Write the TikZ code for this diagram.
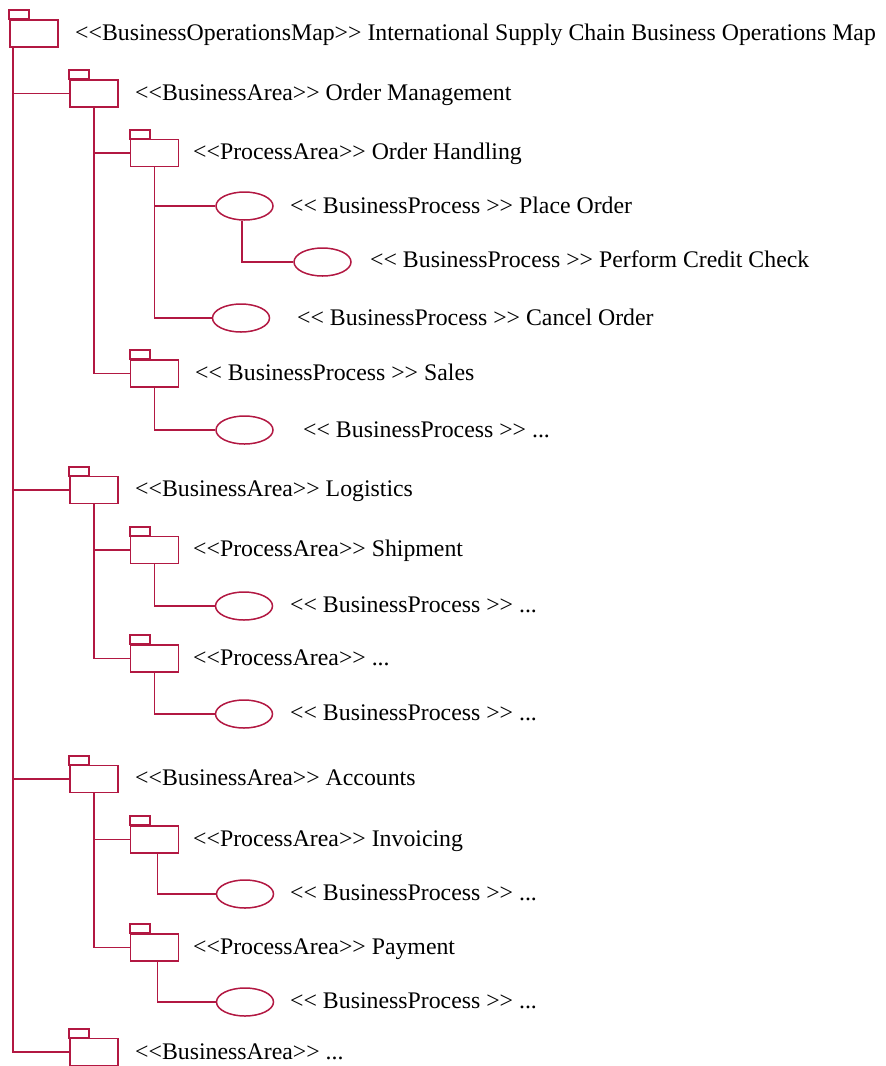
\documentclass[tikz,border=0pt]{standalone}
\usepackage{fontspec}
\setmainfont{Liberation Serif}
\usetikzlibrary{shapes.geometric}
\definecolor{umlred}{RGB}{178,24,66}
\tikzset{
  conn/.style={draw=umlred, line width=1.8pt},
  folder/.style={draw=umlred, line width=1.8pt, rectangle, minimum width=48pt, minimum height=27pt, inner sep=0pt, fill=white},
  usecase/.style={draw=umlred, line width=1.5pt, ellipse, minimum width=57pt, minimum height=28pt, inner sep=0pt, fill=white},
  lbl/.style={anchor=base west, inner sep=0pt, font=\fontsize{23.8}{28}\selectfont, text=black}
}
\newcommand\mkfolder[3]{%
  \node[folder] (#1) at (#2,#3) {};
  \draw[umlred, line width=1.8pt] (#1.north west) rectangle ++(20,-9);
}
\newcommand\mktext[4]{\node[lbl] (#1) at (#2,#3+7.8) {#4};}
\begin{document}
\begin{tikzpicture}[x=1pt,y=-1pt]
\useasboundingbox (0,0) rectangle (886,1066);
% folders
\mkfolder{root}{34}{33.5}
\mkfolder{om}{94}{93.5}
\mkfolder{lo}{94}{490}
\mkfolder{ac}{94}{779}
\mkfolder{bx}{94}{1052}
\mkfolder{oh}{154.5}{153}
\mkfolder{sa}{154.5}{373.5}
\mkfolder{sh}{154.5}{550}
\mkfolder{px}{154.5}{658.5}
\mkfolder{in}{154.5}{839.5}
\mkfolder{pa}{154.5}{947.5}
% use cases
\node[usecase] (po) at (244.5,206) {};
\node[usecase] (cc) at (322.5,262) {};
\node[usecase] (co) at (241,318) {};
\node[usecase] (sx) at (244.5,430) {};
\node[usecase] (shx) at (244,606) {};
\node[usecase] (pxx) at (244,714) {};
\node[usecase] (inx) at (245,894) {};
\node[usecase] (pax) at (245,1002) {};
% connectors
\draw[conn] ([xshift=4pt]root.south west) |- (om.west);
\draw[conn] ([xshift=4pt]root.south west) |- (lo.west);
\draw[conn] ([xshift=4pt]root.south west) |- (ac.west);
\draw[conn] ([xshift=4pt]root.south west) |- (bx.west);
\draw[conn] (om.south) |- (oh.west);
\draw[conn] (om.south) |- (sa.west);
\draw[conn] (oh.south) |- (po.west);
\draw[conn] (oh.south) |- (co.west);
\draw[conn] ([xshift=-2.5pt]po.south) |- (cc.west);
\draw[conn] (sa.south) |- (sx.west);
\draw[conn] (lo.south) |- (sh.west);
\draw[conn] (lo.south) |- (px.west);
\draw[conn] (sh.south) |- (shx.west);
\draw[conn] (px.south) |- (pxx.west);
\draw[conn] (ac.south) |- (in.west);
\draw[conn] (ac.south) |- (pa.west);
\draw[conn] ([xshift=3pt]in.south) |- (inx.west);
\draw[conn] ([xshift=3pt]pa.south) |- (pax.west);
% texts
\mktext{t0}{75}{33}{<{}<BusinessOperationsMap>{}> International Supply Chain Business Operations Map}
\mktext{t1}{135}{93}{<{}<BusinessArea>{}> Order Management}
\mktext{t2}{193}{152}{<{}<ProcessArea>{}> Order Handling}
\mktext{t3}{290}{206}{<{}< BusinessProcess >{}> Place Order}
\mktext{t4}{370}{260}{<{}< BusinessProcess >{}> Perform Credit Check}
\mktext{t5}{297}{318}{<{}< BusinessProcess >{}> Cancel Order}
\mktext{t6}{195}{373}{<{}< BusinessProcess >{}> Sales}
\mktext{t7}{303}{430}{<{}< BusinessProcess >{}> ...}
\mktext{t8}{135}{489}{<{}<BusinessArea>{}> Logistics}
\mktext{t9}{193}{549}{<{}<ProcessArea>{}> Shipment}
\mktext{t10}{290}{605}{<{}< BusinessProcess >{}> ...}
\mktext{t11}{193}{658}{<{}<ProcessArea>{}> ...}
\mktext{t12}{290}{713}{<{}< BusinessProcess >{}> ...}
\mktext{t13}{135}{778}{<{}<BusinessArea>{}> Accounts}
\mktext{t14}{193}{839}{<{}<ProcessArea>{}> Invoicing}
\mktext{t15}{290}{893}{<{}< BusinessProcess >{}> ...}
\mktext{t16}{193}{947}{<{}<ProcessArea>{}> Payment}
\mktext{t17}{290}{1001}{<{}< BusinessProcess >{}> ...}
\mktext{t18}{135}{1052}{<{}<BusinessArea>{}> ...}
\end{tikzpicture}
\end{document}
